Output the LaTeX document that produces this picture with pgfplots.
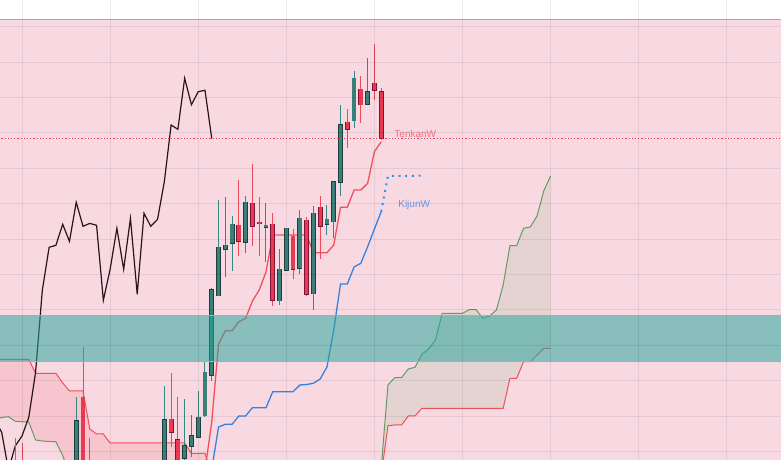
\documentclass[border=0pt]{standalone}
\usepackage{pgfplots}
\pgfplotsset{compat=1.18}
\usepgfplotslibrary{fillbetween}
\usepackage{pgfplotstable}
\usepackage{fontspec}
\setmainfont{Liberation Sans}

\definecolor{bgpink}{RGB}{248,217,226}
\definecolor{zoneteal}{RGB}{38,166,154}
\definecolor{zoneedge}{RGB}{140,192,140}
\definecolor{upfill}{RGB}{58,128,120}
\definecolor{upedge}{RGB}{28,62,60}
\definecolor{upwick}{RGB}{52,138,128}
\definecolor{dnfill}{RGB}{234,58,82}
\definecolor{dnedge}{RGB}{128,18,58}
\definecolor{dnwick}{RGB}{240,72,88}
\definecolor{tenkan}{RGB}{245,80,90}
\definecolor{tenkandot}{RGB}{242,54,69}
\definecolor{kijun}{RGB}{55,130,225}
\definecolor{spanA}{RGB}{100,155,100}
\definecolor{spanB}{RGB}{240,80,90}
\definecolor{cloudgreen}{RGB}{67,160,71}
\definecolor{cloudred}{RGB}{242,54,69}
\definecolor{chikou}{RGB}{40,20,25}
\definecolor{projblue}{RGB}{33,150,243}
\definecolor{tenkanlbl}{RGB}{240,115,125}
\definecolor{kijunlbl}{RGB}{105,150,225}

% candles: x open high low close (vertical unit = chart pixels)
\pgfplotstableread{
x o h l c
11 -20 62.7 -30 39
24 -20 74 -30 40
27 1.7 61 -2 14
28 14 45 3.3 24
29 22.7 69 22.7 42.7
30 44.3 98.3 43.3 87.7
31 85 172 79.3 170
32 164.3 260 164 212.7
33 210.7 263 183.3 214.7
34 216.7 244 189.3 235.7
36 217.7 264 207.3 257.7
39 232.7 257 198.3 234.7
41 159.3 211 155.3 190.7
42 189.7 232 189 231.7
44 191.7 250 186.3 241.7
46 166.3 254 150.3 246.7
48 235.7 255 225 240.7
49 238.3 279 222 278.3
50 277.7 355 264.3 335
52 339.3 389.3 332.3 381.7
54 355.5 401.7 355.5 368.3
}\upcandles

\pgfplotstableread{
x o h l c
2 -5 21.7 -30 -20
3 -10 16.7 -30 -25
12 62.7 113 -30 -20
13 -10 21.7 -40 -30
25 40.7 87 13 27.7
26 20 63 -5 -2
35 234.7 280 204.3 218.7
37 256.7 296 214.3 233.7
38 237.6 263 204.3 236.6
40 235.7 247 154.3 159.7
43 223.7 231 181.3 190.7
45 239.5 242.7 164.3 165.7
47 252.7 263.7 201.3 233.7
51 337.7 351 312.3 330.7
53 370.7 383.7 337.3 355.3
55 376.7 416 360 369.7
56 368.3 371.7 319.5 321.5
}\dncandles

\pgfplotstableread{
x y
-1 40
0 27.7
1 -10
2 14
3 24
4 42.7
5 87.7
6 170
7 212.7
8 214.7
9 235.7
10 218.7
11 257.7
12 233.7
13 236.6
14 234.7
15 159.7
16 190.7
17 231.7
18 190.7
19 241.7
20 165.7
21 246.7
22 233.7
23 240.7
24 278.3
25 335
26 330.7
27 381.7
28 355.3
29 368.3
30 369.7
31 321.5
}\chikoutab

\pgfplotstableread{
x y
30 -10
31 38.2
32 116
33 129.3
34 129.3
35 138.3
36 141.7
37 159
38 170
39 188
40 225
41 225
42 225
43 225
44 225
45 225
46 207.3
47 207.3
48 207.3
49 215
50 252.7
51 252.7
52 270
53 270
54 276.7
55 308.3
56 318.3
}\tenkantab

\pgfplotstableread{
x y
31 -9
32 33
33 35.7
34 35.7
35 44
36 44
37 52.3
38 52.3
39 52.3
40 68.3
41 68.3
42 68.3
43 68.3
44 75
45 75.5
46 76.7
47 81
48 93
49 130
50 176
51 176
52 193
53 196.7
54 213.3
55 231
56 248.3
}\kijuntab

\pgfplotstableread{
x y
56 248.3
57 284
62.5 284.3
}\kijunproj

\pgfplotstableread{
x y
-1 40
0 42.5
1 43.3
2 38.7
3 38.3
4 38
5 20
6 19
7 18.5
8 18.3
9 4.6
10 -15
11 -40
20 -40
32 -40
}\spanAleft

\pgfplotstableread{
x y
-1 100.7
0 100.7
1 100.7
2 100.7
3 100.7
4 100.7
5 86.7
6 86.7
7 86.7
8 86.7
9 77
10 69
11 69
12 69
13 31
14 26
15 26
16 17
17 17
18 17
19 17
20 17
21 17
22 17
23 17
24 17
25 17
26 17
27 17
28 6.7
29 6.7
30 6.7
31 -15
32 -30
}\spanBleft

\pgfplotstableread{
x y
56 -8
57 75
58 82.3
59 82.3
60 91
61 92.7
62 105.7
63 111
64 120
65 146.7
66 146.7
67 146.7
68 146.7
69 150.3
70 150.3
71 141.7
72 144
73 150
74 175
75 214.3
76 214.3
77 231.7
78 233
79 244
80 269.3
81 284
}\spanAright

\pgfplotstableread{
x y
56 -15
57 34.3
58 35
59 35
60 44
61 44
62 51.7
63 51.7
64 51.7
65 51.7
66 51.7
67 51.7
68 51.7
69 51.7
70 51.7
71 51.7
72 51.7
73 51.7
74 51.7
75 81.7
76 81.7
77 98.3
78 98.3
79 105
80 111.7
81 111.7
}\spanBright

\begin{document}
\begin{tikzpicture}
\begin{axis}[
  scale only axis, width=781pt, height=460pt,
  xmin=-0.25, xmax=115.0, ymin=0, ymax=460,
  axis on top,
  axis background/.style={fill=bgpink},
  axis line style={draw=none},
  major tick length=0pt,
  xtick={3,16,29,42,55,68,81,94,107},
  ytick={8.5,43.9,79.3,114.7,150.1,185.5,221,256.4,291.8,327.2,362.6,398,433.5},
  xticklabels={}, yticklabels={},
  grid=major,
  major grid style={black, opacity=0.07, line width=0.8pt},
  clip=true,
]
% white strip above the pink zone
\addplot[draw=none, fill=white] coordinates {(-1,440.7) (116,440.7) (116,470) (-1,470)} --cycle;
\addplot[zoneedge, line width=1pt] coordinates {(-1,440.7) (116,440.7)};

% clouds
\addplot[name path=sbl, spanB, line width=1pt] table[x=x,y=y] {\spanBleft};
\addplot[name path=sal, spanA, line width=1pt] table[x=x,y=y] {\spanAleft};
\addplot[fill=cloudred, fill opacity=0.12, draw=none] fill between[of=sbl and sal];
\addplot[name path=sar, spanA, line width=1pt] table[x=x,y=y] {\spanAright};
\addplot[name path=sbr, spanB, line width=1pt] table[x=x,y=y] {\spanBright};
\addplot[fill=cloudgreen, fill opacity=0.10, draw=none] fill between[of=sar and sbr];

% lines
\addplot[chikou, line width=1.2pt] table[x=x,y=y] {\chikoutab};
\addplot[tenkan, line width=1.3pt] table[x=x,y=y] {\tenkantab};
\addplot[kijun, line width=1.3pt] table[x=x,y=y] {\kijuntab};

% candles: wicks
\addplot[draw=none, mark=none, error bars/.cd, y dir=plus, y explicit, error mark=none,
  error bar style={draw=upwick, solid, line width=1pt}]
  table[x=x, y=l, y error expr=\thisrow{h}-\thisrow{l}] {\upcandles};
\addplot[draw=none, mark=none, error bars/.cd, y dir=plus, y explicit, error mark=none,
  error bar style={draw=dnwick, solid, line width=1pt}]
  table[x=x, y=l, y error expr=\thisrow{h}-\thisrow{l}] {\dncandles};
% candles: bodies (outline then fill)
\addplot[draw=none, mark=none, error bars/.cd, y dir=both, y explicit, error mark=none,
  error bar style={draw=upedge, solid, line width=4.8pt}]
  table[x=x, y expr=(\thisrow{o}+\thisrow{c})/2, y error expr=abs(\thisrow{o}-\thisrow{c})/2+0.7] {\upcandles};
\addplot[draw=none, mark=none, error bars/.cd, y dir=both, y explicit, error mark=none,
  error bar style={draw=upfill, solid, line width=3.3pt}]
  table[x=x, y expr=(\thisrow{o}+\thisrow{c})/2, y error expr=abs(\thisrow{o}-\thisrow{c})/2] {\upcandles};
\addplot[draw=none, mark=none, error bars/.cd, y dir=both, y explicit, error mark=none,
  error bar style={draw=dnedge, solid, line width=4.8pt}]
  table[x=x, y expr=(\thisrow{o}+\thisrow{c})/2, y error expr=abs(\thisrow{o}-\thisrow{c})/2+0.7] {\dncandles};
\addplot[draw=none, mark=none, error bars/.cd, y dir=both, y explicit, error mark=none,
  error bar style={draw=dnfill, solid, line width=3.3pt}]
  table[x=x, y expr=(\thisrow{o}+\thisrow{c})/2, y error expr=abs(\thisrow{o}-\thisrow{c})/2] {\dncandles};

% level lines
\addplot[tenkandot, line width=1.2pt, dash pattern=on 1.3pt off 1.9pt] coordinates {(-1,321.7) (116,321.7)};
\addplot[projblue, line width=2pt, dash pattern=on 2pt off 4.7pt] table[x=x,y=y] {\kijunproj};

% teal zone on top
\addplot[draw=none, fill=zoneteal, fill opacity=0.53] coordinates {(-1,98.6) (116,98.6) (116,145) (-1,145)} --cycle;
\addplot[zoneedge, line width=0.9pt] coordinates {(-1,145) (116,145)};
\addplot[zoneedge, line width=0.9pt] coordinates {(-1,98.6) (116,98.6)};

\node[anchor=west, inner sep=0pt, text=tenkanlbl, font=\fontsize{10}{12}\selectfont] at (axis cs:57.93,325.7) {TenkanW};
\node[anchor=west, inner sep=0pt, text=kijunlbl, font=\fontsize{10}{12}\selectfont] at (axis cs:58.5,255) {KijunW};
\end{axis}
\pgfresetboundingbox
\path[use as bounding box] (current axis.south west) rectangle (current axis.north east);
\end{tikzpicture}
\end{document}
